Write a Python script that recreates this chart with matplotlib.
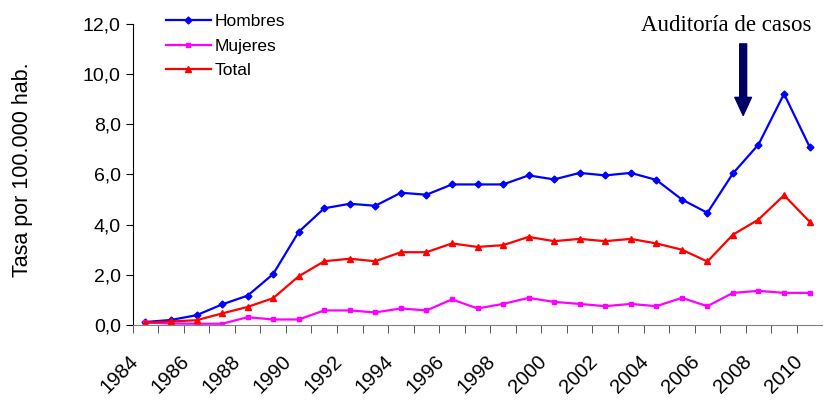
import matplotlib.pyplot as plt
import matplotlib.transforms as mtransforms
from matplotlib.ticker import FuncFormatter, MultipleLocator

years = list(range(1984, 2011))
hombres = [0.12, 0.2, 0.39, 0.82, 1.17, 2.03, 3.71, 4.65, 4.83, 4.75, 5.27, 5.19, 5.6,
           5.6, 5.6, 5.96, 5.8, 6.06, 5.96, 6.06, 5.78, 5.0, 4.47, 6.04, 7.19, 9.21, 7.1]
mujeres = [0.1, 0.06, 0.05, 0.05, 0.31, 0.22, 0.22, 0.58, 0.58, 0.5, 0.66, 0.58, 1.02,
           0.66, 0.84, 1.08, 0.92, 0.84, 0.75, 0.84, 0.75, 1.08, 0.75, 1.28, 1.36, 1.28, 1.28]
total = [0.09, 0.14, 0.19, 0.46, 0.72, 1.07, 1.94, 2.54, 2.64, 2.54, 2.9, 2.9, 3.25,
         3.11, 3.18, 3.51, 3.34, 3.43, 3.34, 3.43, 3.25, 3.0, 2.53, 3.6, 4.2, 5.17, 4.12]

plt.rcParams['font.family'] = ['Liberation Sans', 'DejaVu Sans']

fig = plt.figure(figsize=(8.24, 4), dpi=100)
ax = fig.add_axes([0.161, 0.1875, 0.837, 0.753])

ax.plot(years, hombres, color='#0000FF', lw=1.6, marker='D', ms=3.5, label='Hombres')
ax.plot(years, mujeres, color='#FF00FF', lw=1.6, marker='s', ms=3, label='Mujeres')
ax.plot(years, total, color='#FF0000', lw=1.6, marker='^', ms=5, label='Total')

ax.set_xlim(1983.5, 2010.5)
ax.set_ylim(0, 12)
ax.yaxis.set_major_locator(MultipleLocator(2))
ax.yaxis.set_major_formatter(FuncFormatter(lambda v, p: f"{v:.1f}".replace('.', ',')))
ax.tick_params(axis='y', labelsize=14, length=5, color='black')

ax.set_xticks(years[::2])
ax.set_xticks([y + 0.5 for y in years[:-1]] + [1983.5], minor=True)
ax.tick_params(axis='x', which='major', length=0, labelsize=14.5, pad=17)
ax.tick_params(axis='x', which='minor', length=6, color='#404040')
shift = mtransforms.ScaledTranslation(-0.17, -0.03, fig.dpi_scale_trans)
for lab in ax.get_xticklabels():
    lab.set_rotation(45)
    lab.set_ha('right')
    lab.set_va('top')
    lab.set_rotation_mode('anchor')
    lab.set_transform(lab.get_transform() + shift)

ax.spines['top'].set_visible(False)
ax.spines['right'].set_visible(False)
ax.spines['bottom'].set_color('#808080')

ax.set_ylabel('Tasa por 100.000 hab.', fontsize=15.5)
ax.yaxis.set_label_coords(-0.145, 0.515)

ax.legend(loc='upper left', bbox_to_anchor=(0.025, 1.085), frameon=False, fontsize=12.5,
          handlelength=2.6, handletextpad=0.25, labelspacing=0.55)

ax.annotate('', xy=(2007.4, 8.35), xytext=(2007.4, 11.2),
            arrowprops=dict(width=5, headwidth=12, headlength=13,
                            facecolor='#000066', edgecolor='#000066'))
ax.text(2006.75, 11.95, 'Auditoría de casos', family='Liberation Serif', fontsize=16.5,
        ha='center', va='center', clip_on=False)

fig.savefig('out.png', dpi=100)
